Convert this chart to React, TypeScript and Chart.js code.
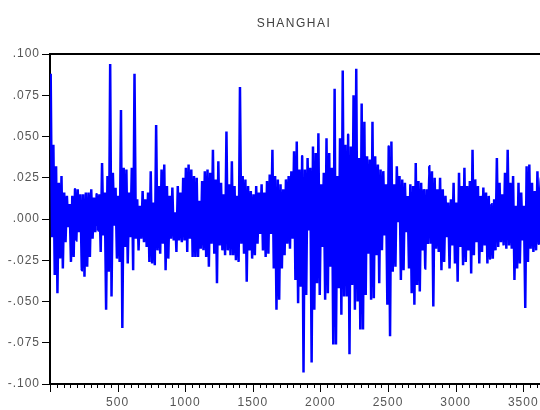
import React, { useEffect, useRef } from 'react';
import { Chart, registerables } from 'chart.js';

Chart.register(...registerables);

const TITLE = 'SHANGHAI';
const BUCKET = 20; // observations per bucket
const X_MIN = 0;
const X_MAX = 3624;
const X_MINOR_STEP = 50;
const X_MAJOR_STEP = 500;
const Y_MIN = -0.1;
const Y_MAX = 0.1;
const Y_STEP = 0.025;

// upper extreme of the returns within each bucket of 20 observations
const HI = [
  0.088, 0.045, 0.032, 0.022, 0.026, 0.016, 0.014, 0.009, 0.014, 0.018,
  0.018, 0.015, 0.015, 0.016, 0.016, 0.018, 0.013, 0.015, 0.015, 0.034,
  0.016, 0.026, 0.094, 0.028, 0.019, 0.014, 0.066, 0.031, 0.030, 0.016,
  0.031, 0.088, 0.012, 0.008, 0.017, 0.012, 0.016, 0.029, 0.010, 0.057,
  0.020, 0.030, 0.033, 0.020, 0.014, 0.019, 0.004, 0.020, 0.016, 0.025,
  0.031, 0.033, 0.030, 0.026, 0.025, 0.011, 0.023, 0.029, 0.030, 0.028,
  0.042, 0.024, 0.035, 0.022, 0.015, 0.053, 0.021, 0.035, 0.020, 0.014,
  0.080, 0.026, 0.024, 0.020, 0.017, 0.015, 0.020, 0.016, 0.021, 0.016,
  0.023, 0.027, 0.042, 0.026, 0.024, 0.021, 0.018, 0.024, 0.026, 0.029,
  0.041, 0.047, 0.030, 0.038, 0.030, 0.037, 0.031, 0.044, 0.040, 0.052,
  0.021, 0.028, 0.049, 0.040, 0.031, 0.079, 0.026, 0.049, 0.090, 0.045,
  0.051, 0.044, 0.075, 0.091, 0.037, 0.070, 0.059, 0.038, 0.036, 0.059,
  0.038, 0.033, 0.030, 0.029, 0.021, 0.044, 0.047, 0.021, 0.032, 0.026,
  0.024, 0.022, 0.014, 0.021, 0.020, 0.034, 0.023, 0.022, 0.018, 0.018,
  0.032, 0.029, 0.025, 0.018, 0.025, 0.018, 0.014, 0.010, 0.012, 0.022,
  0.010, 0.028, 0.020, 0.031, 0.020, 0.023, 0.042, 0.024, 0.020, 0.014,
  0.019, 0.016, 0.014, 0.009, 0.012, 0.037, 0.022, 0.015, 0.028, 0.042,
  0.022, 0.026, 0.008, 0.022, 0.016, 0.008, 0.032, 0.033, 0.022, 0.017,
  0.029, 0.025,
];

// lower extreme of the returns within each bucket of 20 observations
const LO = [
  -0.011, -0.034, -0.045, -0.024, -0.030, -0.014, -0.005, -0.026, -0.023, -0.013,
  -0.008, -0.031, -0.035, -0.029, -0.023, -0.012, -0.008, -0.007, -0.020, -0.010,
  -0.055, -0.032, -0.047, -0.004, -0.024, -0.026, -0.066, -0.017, -0.027, -0.011,
  -0.031, -0.012, -0.019, -0.012, -0.014, -0.017, -0.026, -0.027, -0.028, -0.019,
  -0.021, -0.015, -0.031, -0.024, -0.012, -0.013, -0.020, -0.013, -0.014, -0.013,
  -0.020, -0.012, -0.023, -0.023, -0.023, -0.018, -0.019, -0.023, -0.029, -0.015,
  -0.021, -0.039, -0.016, -0.019, -0.022, -0.019, -0.022, -0.022, -0.025, -0.026,
  -0.015, -0.021, -0.038, -0.019, -0.024, -0.022, -0.015, -0.009, -0.019, -0.023,
  -0.021, -0.009, -0.030, -0.055, -0.049, -0.030, -0.022, -0.015, -0.018, -0.012,
  -0.037, -0.051, -0.041, -0.093, -0.046, -0.007, -0.087, -0.055, -0.039, -0.046,
  -0.017, -0.049, -0.045, -0.029, -0.076, -0.076, -0.042, -0.058, -0.047, -0.047,
  -0.082, -0.040, -0.055, -0.050, -0.067, -0.067, -0.046, -0.021, -0.049, -0.048,
  -0.022, -0.039, -0.019, -0.010, -0.052, -0.071, -0.032, -0.029, -0.002, -0.037,
  -0.031, -0.008, -0.030, -0.045, -0.052, -0.040, -0.044, -0.019, -0.030, -0.015,
  -0.015, -0.053, -0.018, -0.020, -0.031, -0.026, -0.011, -0.030, -0.016, -0.027,
  -0.038, -0.017, -0.028, -0.026, -0.019, -0.033, -0.022, -0.014, -0.027, -0.020,
  -0.016, -0.027, -0.024, -0.024, -0.019, -0.017, -0.014, -0.016, -0.018, -0.016,
  -0.018, -0.037, -0.030, -0.027, -0.013, -0.054, -0.026, -0.018, -0.020, -0.019,
  -0.015, -0.030,
];

const FONT_FAMILY = '"Liberation Sans", Arial, Helvetica, sans-serif';

function buildPoints() {
  const pts: { x: number; y: number }[] = [];
  for (let k = 0; k < HI.length; k++) {
    pts.push({ x: k * BUCKET + 5, y: HI[k] });
    pts.push({ x: k * BUCKET + 15, y: LO[k] });
  }
  return pts;
}

function fmtY(v: number) {
  const s = Math.abs(v).toFixed(3).replace(/^0/, '');
  return v < -1e-9 ? '-' + s : s;
}

const framePlugin = {
  id: 'frame',
  beforeDraw(chart: any) {
    try {
      chart.ctx.letterSpacing = '1px';
    } catch (e) {}
  },
  afterDraw(chart: any) {
    const { ctx, chartArea } = chart;
    const xs = chart.scales.x;
    ctx.save();
    // top border
    ctx.strokeStyle = '#000';
    ctx.lineWidth = 2;
    ctx.beginPath();
    ctx.moveTo(chartArea.left - 1, chartArea.top);
    ctx.lineTo(chartArea.right, chartArea.top);
    ctx.stroke();
    // x tick marks (minor every 50, major every 500)
    ctx.lineWidth = 1;
    ctx.beginPath();
    for (let v = X_MIN; v <= X_MAX; v += X_MINOR_STEP) {
      const px = Math.round(xs.getPixelForValue(v)) + 0.5;
      const len = v % X_MAJOR_STEP === 0 ? 8 : 4;
      ctx.moveTo(px, chartArea.bottom);
      ctx.lineTo(px, chartArea.bottom + len);
    }
    ctx.stroke();
    // title
    ctx.fillStyle = '#404040';
    ctx.font = '12px ' + FONT_FAMILY;
    try {
      (ctx as any).letterSpacing = '1.5px';
    } catch (e) {}
    ctx.textAlign = 'center';
    ctx.textBaseline = 'middle';
    ctx.fillText(TITLE, 294, 24);
    ctx.restore();
  },
};

export default function App() {
  const ref = useRef<HTMLCanvasElement | null>(null);

  useEffect(() => {
    document.body.style.margin = '0';
    const canvas = ref.current;
    if (!canvas) return;
    const chart = new Chart(canvas, {
      type: 'line',
      data: {
        datasets: [
          {
            data: buildPoints(),
            borderColor: '#0000ff',
            borderWidth: 2.5,
            borderJoinStyle: 'miter',
            pointRadius: 0,
            tension: 0.0001,
            fill: false,
          },
        ],
      },
      options: {
        animation: false,
        responsive: false,
        devicePixelRatio: 1,
        layout: { padding: { top: 54, right: 0, left: 0, bottom: 0 } },
        plugins: {
          legend: { display: false },
          tooltip: { enabled: false },
          title: { display: false },
        },
        scales: {
          x: {
            type: 'linear',
            min: X_MIN,
            max: X_MAX,
            afterFit: (s: any) => {
              s.height = 26;
              s.paddingLeft = 0;
              s.paddingRight = 0;
            },
            grid: {
              display: true,
              drawOnChartArea: false,
              tickLength: 7,
              tickColor: 'rgba(0,0,0,0)',
            },
            border: { display: true, color: '#000', width: 2 },
            ticks: {
              stepSize: X_MINOR_STEP,
              autoSkip: false,
              maxRotation: 0,
              minRotation: 0,
              padding: 4,
              color: '#555',
              font: { family: FONT_FAMILY, size: 12 },
              callback: (v: any) => {
                const n = Number(v);
                return n > 0 && n % X_MAJOR_STEP === 0 ? String(n) : '';
              },
            },
          },
          y: {
            min: Y_MIN,
            max: Y_MAX,
            afterFit: (s: any) => {
              s.width = 50;
            },
            grid: {
              display: true,
              drawOnChartArea: false,
              tickLength: 8,
              color: '#000',
            },
            border: { display: true, color: '#000', width: 2 },
            ticks: {
              stepSize: Y_STEP,
              padding: 2,
              color: '#555',
              font: { family: FONT_FAMILY, size: 12 },
              callback: (v: any) => fmtY(Number(v)),
            },
          },
        },
      },
      plugins: [framePlugin],
    });
    return () => chart.destroy();
  }, []);

  return (
    <canvas
      ref={ref}
      width={540}
      height={410}
      style={{ display: 'block', width: 540, height: 410 }}
    />
  );
}
